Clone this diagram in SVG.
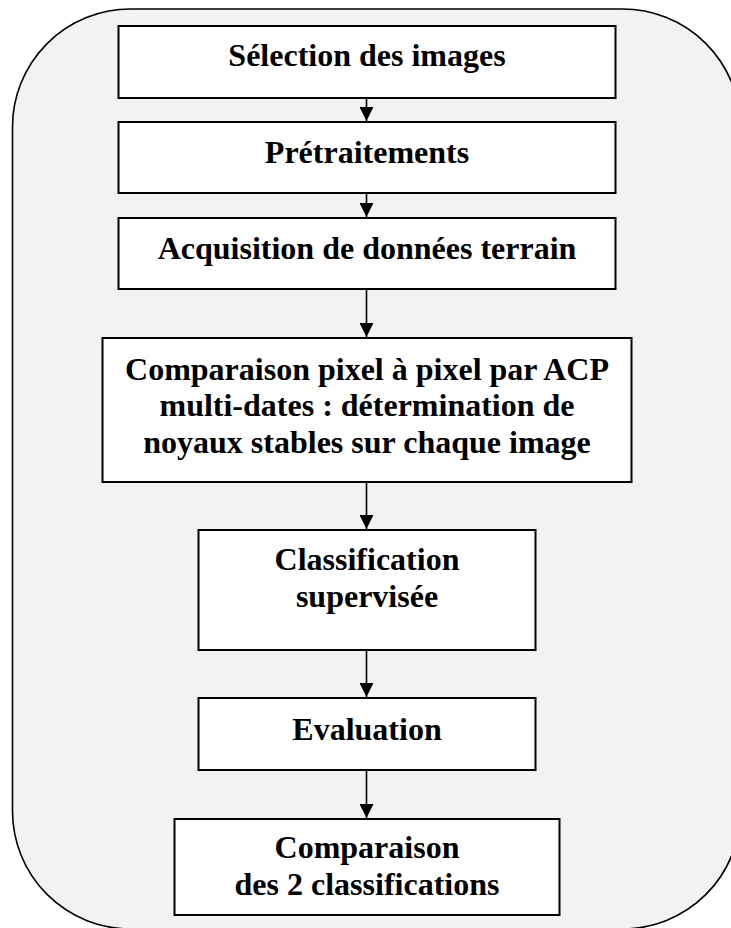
<svg xmlns="http://www.w3.org/2000/svg" width="731" height="928" viewBox="0 0 731 928">
<style>
.box{fill:#ffffff;stroke:#000000;stroke-width:2}
.t{font-family:"Liberation Serif","Times New Roman",serif;font-weight:bold;font-size:32px;fill:#000000;text-anchor:middle}
.c{stroke:#000000;stroke-width:1.6;fill:none}
</style>
<defs>
<marker id="ah" viewBox="0 0 14 14" refX="14" refY="7" markerWidth="14" markerHeight="14" markerUnits="userSpaceOnUse" orient="auto">
<path d="M0,0 L14,7 L0,14 Z" fill="#000000"/>
</marker>
</defs>
<rect x="0" y="0" width="731" height="928" fill="#ffffff"/>
<rect id="frame" x="12.5" y="9" width="728" height="920" rx="118" ry="118" fill="#f2f2f2" stroke="#000000" stroke-width="1.6"/>
<g id="connectors">
<line class="c" x1="366.5" y1="98" x2="366.5" y2="121" marker-end="url(#ah)"/>
<line class="c" x1="366.5" y1="193" x2="366.5" y2="217" marker-end="url(#ah)"/>
<line class="c" x1="366.5" y1="289" x2="366.5" y2="337" marker-end="url(#ah)"/>
<line class="c" x1="366.5" y1="482" x2="366.5" y2="529" marker-end="url(#ah)"/>
<line class="c" x1="366.5" y1="650" x2="366.5" y2="697" marker-end="url(#ah)"/>
<line class="c" x1="366.5" y1="770" x2="366.5" y2="818" marker-end="url(#ah)"/>
</g>
<g id="n1">
<rect class="box" x="118.5" y="26" width="497" height="72"/>
<text class="t" x="367" y="66">Sélection des images</text>
</g>
<g id="n2">
<rect class="box" x="118.5" y="122" width="497" height="71"/>
<text class="t" x="367" y="163">Prétraitements</text>
</g>
<g id="n3">
<rect class="box" x="118.5" y="218" width="497" height="71"/>
<text class="t" x="367" y="259">Acquisition de données terrain</text>
</g>
<g id="n4">
<rect class="box" x="102.5" y="338" width="529" height="144"/>
<text class="t" x="367" y="379.5">Comparaison pixel à pixel par ACP</text>
<text class="t" x="367" y="416">multi-dates : détermination de</text>
<text class="t" x="367" y="452.5">noyaux stables sur chaque image</text>
</g>
<g id="n5">
<rect class="box" x="198.5" y="530" width="337" height="120"/>
<text class="t" x="367" y="570">Classification</text>
<text class="t" x="367" y="607">supervisée</text>
</g>
<g id="n6">
<rect class="box" x="198.5" y="698" width="337" height="72"/>
<text class="t" x="367" y="740">Evaluation</text>
</g>
<g id="n7">
<rect class="box" x="174.5" y="819" width="385" height="96"/>
<text class="t" x="367" y="858">Comparaison</text>
<text class="t" x="367" y="895">des 2 classifications</text>
</g>
</svg>
